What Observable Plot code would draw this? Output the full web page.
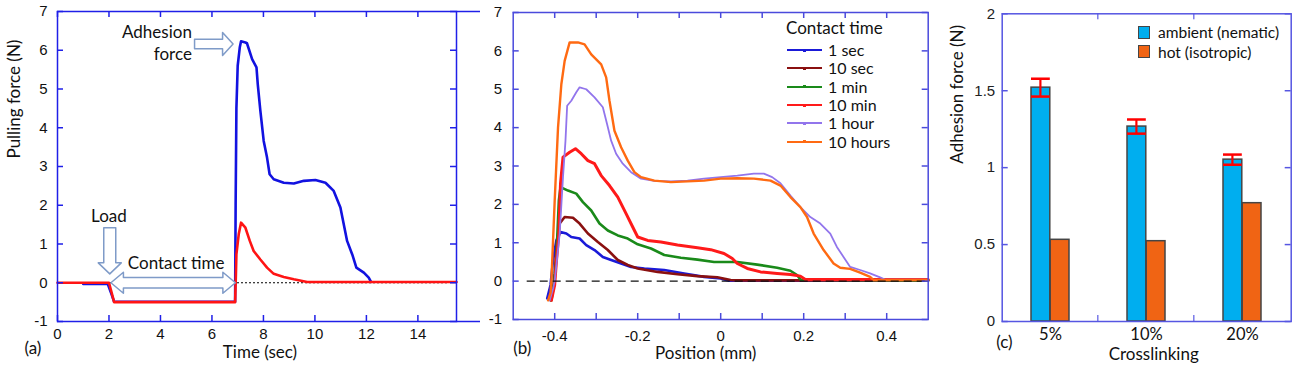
<!DOCTYPE html>
<html><head><meta charset="utf-8">
<script src="https://cdn.jsdelivr.net/npm/d3@7"></script>
<script src="https://cdn.jsdelivr.net/npm/@observablehq/plot@0.6"></script>
<style>
body{margin:0;background:#fff;}
#wrap{position:relative;width:1301px;height:369px;overflow:hidden;background:#fff;font-family:Lato,sans-serif;}
#wrap svg{position:absolute;top:0;overflow:visible;}
.lg{position:absolute;font-family:Lato,sans-serif;color:#111;white-space:nowrap;line-height:16px;}
</style></head><body><div id="wrap"></div>
<script>
// ================= DATA =================
// Panel (a): pulling force vs time
const timeTicks = [0, 2, 4, 6, 8, 10, 12, 14];
const forceTicks = [-1, 0, 1, 2, 3, 4, 5, 6, 7];
const aBlueTime  = [1.0, 1.95, 2.1, 2.2, 6.9, 6.92, 6.95, 7.0, 7.08, 7.13, 7.3, 7.36, 7.56, 7.73, 7.78, 7.88, 8.01, 8.14, 8.24, 8.40, 8.79, 9.18, 9.57, 10.02, 10.41, 10.73, 10.99, 11.25, 11.45, 11.61, 11.90, 12.09, 12.18];
const aBlueForce = [-0.03, -0.03, -0.3, -0.49, -0.49, 2.0, 4.5, 5.6, 6.07, 6.23, 6.2, 6.18, 5.77, 5.56, 5.12, 4.44, 3.66, 3.23, 2.80, 2.67, 2.58, 2.56, 2.63, 2.65, 2.58, 2.37, 1.94, 1.08, 0.73, 0.39, 0.26, 0.13, 0.02];
const aRedTime  = [0, 2.0, 2.1, 2.2, 6.9, 6.93, 6.95, 7.04, 7.13, 7.30, 7.47, 7.62, 7.88, 8.14, 8.40, 8.79, 9.18, 9.70, 15.5];
const aRedForce = [0, 0, -0.25, -0.5, -0.5, 0.2, 0.73, 1.25, 1.55, 1.42, 1.08, 0.82, 0.60, 0.39, 0.23, 0.15, 0.09, 0.02, 0.02];

// Panel (b): pulling force vs position for contact times
const posTicks = [-0.4, -0.3, -0.2, -0.1, 0, 0.1, 0.2, 0.3, 0.4];
const posLabels = [-0.4, -0.2, 0, 0.2, 0.4];
const contactTimes = ["1 sec", "10 sec", "1 min", "10 min", "1 hour", "10 hours"];
const b1secPos = [-0.418,-0.41,-0.404,-0.396,-0.386,-0.372,-0.36,-0.34,-0.324,-0.304,-0.284,-0.264,-0.24,-0.216,-0.184,-0.136,-0.088,-0.04,0,0.02,0.5];
const b1secF   = [-0.45,-0.1,0.55,1.06,1.28,1.24,1.15,1.11,0.94,0.81,0.63,0.55,0.46,0.37,0.33,0.29,0.20,0.11,0.07,0.01,0.01];
const b10secPos = [-0.41,-0.404,-0.4,-0.394,-0.388,-0.376,-0.356,-0.34,-0.32,-0.296,-0.272,-0.248,-0.224,-0.2,-0.152,-0.104,-0.056,-0.008,0.024,0.04,0.5];
const b10secF   = [-0.5,-0.2,0.2,1.06,1.50,1.67,1.65,1.50,1.24,1.02,0.81,0.55,0.42,0.33,0.24,0.18,0.13,0.10,0.03,0.02,0.02];
const b1minPos = [-0.408,-0.402,-0.396,-0.39,-0.386,-0.368,-0.348,-0.332,-0.312,-0.292,-0.272,-0.248,-0.224,-0.2,-0.168,-0.136,-0.096,-0.056,-0.016,0.04,0.088,0.136,0.168,0.184,0.192,0.5];
const b1minF   = [-0.5,-0.1,0.6,2.1,2.45,2.36,2.28,2.06,1.84,1.50,1.32,1.19,1.11,0.96,0.85,0.68,0.61,0.56,0.50,0.50,0.43,0.35,0.27,0.16,0.04,0.02];
const b10minPos = [-0.408,-0.4,-0.396,-0.39,-0.386,-0.38,-0.364,-0.35,-0.336,-0.32,-0.304,-0.288,-0.268,-0.248,-0.228,-0.212,-0.2,-0.176,-0.144,-0.104,-0.056,-0.024,0.008,0.028,0.04,0.064,0.096,0.136,0.168,0.192,0.204,0.5];
const b10minF   = [-0.5,-0.1,0.5,1.24,2.54,3.23,3.36,3.45,3.32,3.14,3.06,2.75,2.49,2.19,1.76,1.41,1.15,1.06,1.02,0.94,0.87,0.82,0.72,0.59,0.46,0.33,0.24,0.20,0.17,0.13,0.04,0.04];
const b1hourPos = [-0.412,-0.404,-0.4,-0.388,-0.38,-0.374,-0.37,-0.36,-0.348,-0.34,-0.324,-0.304,-0.284,-0.274,-0.264,-0.252,-0.236,-0.216,-0.192,-0.16,-0.12,-0.08,-0.04,0,0.04,0.08,0.104,0.124,0.144,0.168,0.192,0.216,0.24,0.264,0.28,0.296,0.312,0.336,0.36,0.384,0.396,0.5];
const b1hourF   = [-0.5,-0.2,0,1.24,2.71,3.66,4.57,4.70,4.92,5.05,5.0,4.79,4.53,4.10,3.66,3.32,3.06,2.84,2.67,2.61,2.60,2.62,2.67,2.71,2.75,2.80,2.80,2.71,2.55,2.23,1.93,1.67,1.50,1.24,0.89,0.63,0.37,0.29,0.20,0.10,0.04,0.04];
const b10hourPos = [-0.416,-0.41,-0.408,-0.4,-0.392,-0.384,-0.376,-0.364,-0.344,-0.328,-0.312,-0.288,-0.276,-0.268,-0.256,-0.24,-0.224,-0.208,-0.192,-0.16,-0.12,-0.08,-0.04,0,0.04,0.08,0.12,0.144,0.168,0.192,0.208,0.224,0.248,0.272,0.288,0.312,0.336,0.36,0.368,0.5];
const b10hourF   = [-0.5,-0.3,0,2.1,4.0,5.13,5.74,6.22,6.22,6.17,5.91,5.65,5.31,4.70,3.92,3.49,3.14,2.84,2.71,2.62,2.58,2.60,2.62,2.67,2.68,2.67,2.62,2.49,2.19,1.93,1.67,1.24,0.81,0.46,0.35,0.32,0.22,0.11,0.03,0.03];

// Panel (c): adhesion force vs crosslinking
const crosslinking = ["5%", "10%", "20%"];
const ambientForce = [1.52, 1.267, 1.052];
const ambientErr   = [0.058, 0.046, 0.033];
const hotForce     = [0.531, 0.522, 0.769];
const adhesionTicks = [0, 0.5, 1, 1.5, 2];
const barSeries = ["ambient (nematic)", "hot (isotropic)"];

// ================= STYLE =================
const numFont = "'Liberation Sans', Arial, sans-serif";
const txtFont = "Lato, sans-serif";
const wrap = document.getElementById("wrap");

function place(svg, left) { svg.style.left = left + "px"; wrap.appendChild(svg); }

// ---------- Panel (a) ----------
{
  const W = 470, H = 369, ml = 57, mr = 14, mt = 11, mb = 48;
  const iw = W - ml - mr, ih = H - mt - mb;
  const xd = [0, 15.5], yd = [-1, 7];
  const kx = iw / (xd[1] - xd[0]), ky = ih / (yd[1] - yd[0]);
  const frameC = "#1f1fe8";
  const blue = aBlueTime.map((t, i) => ({t, f: aBlueForce[i]}));
  const red = aRedTime.map((t, i) => ({t, f: aRedForce[i]}));

  // hollow block arrows (anchors in data units, sizes in px)
  const arrows = [];
  function rightArrow(id, tipX, tipY, len, headLen, sh, hh) {
    const x0 = tipX - len / kx, xb = tipX - headLen / kx, s = sh / ky, h = hh / ky;
    [[x0, tipY + s], [xb, tipY + s], [xb, tipY + h], [tipX, tipY], [xb, tipY - h], [xb, tipY - s], [x0, tipY - s], [x0, tipY + s]]
      .forEach(([x, y]) => arrows.push({id, x, y}));
  }
  function downArrow(id, tipX, tipY, len, headLen, sh, hh) {
    const y0 = tipY + len / ky, yb = tipY + headLen / ky, s = sh / kx, h = hh / kx;
    [[tipX - s, y0], [tipX - s, yb], [tipX - h, yb], [tipX, tipY], [tipX + h, yb], [tipX + s, yb], [tipX + s, y0], [tipX - s, y0]]
      .forEach(([x, y]) => arrows.push({id, x, y}));
  }
  function doubleArrow(id, xl, xr, yc, headLen, sh, hh) {
    const a = xl + headLen / kx, b = xr - headLen / kx, s = sh / ky, h = hh / ky;
    [[xl, yc], [a, yc + h], [a, yc + s], [b, yc + s], [b, yc + h], [xr, yc], [b, yc - h], [b, yc - s], [a, yc - s], [a, yc - h], [xl, yc]]
      .forEach(([x, y]) => arrows.push({id, x, y}));
  }
  rightArrow("adh", 6.82, 6.16, 38.5, 10.5, 4.7, 11.5);
  downArrow("load", 2.03, 0.23, 46, 11, 6, 11.5);
  doubleArrow("contact", 2.075, 6.91, 0, 12.5, 5.3, 10.5);

  const notesEnd = [
    {x: 5.22, y: 6.46, text: "Adhesion"},
    {x: 5.22, y: 5.88, text: "force"}
  ];
  const notesMid = [
    {x: 2.0, y: 1.72, text: "Load"},
    {x: 4.61, y: 0.49, text: "Contact time"}
  ];

  const svg = Plot.plot({
    width: W, height: H, marginLeft: ml, marginRight: mr, marginTop: mt, marginBottom: mb,
    x: {domain: xd}, y: {domain: yd},
    style: {background: "transparent", color: "#111", overflow: "visible"},
    marks: [
      Plot.axisX({ticks: timeTicks, tickSize: 0, tickPadding: 7, label: null, fontSize: 15, fontFamily: numFont, tickFormat: d => String(d)}),
      Plot.axisY({ticks: forceTicks, tickSize: 0, tickPadding: 10, label: null, fontSize: 15, fontFamily: numFont, tickFormat: d => String(d)}),
      Plot.ruleY([0], {stroke: "#000", strokeWidth: 1, strokeDasharray: "2,2", insetRight: 8}),
      Plot.line(blue, {x: "t", y: "f", stroke: "#1212e0", strokeWidth: 2.6}),
      Plot.line(red, {x: "t", y: "f", stroke: "#ff1414", strokeWidth: 2.6}),
      Plot.line(arrows, {x: "x", y: "y", z: "id", fill: "white", stroke: "#7f9bc8", strokeWidth: 1.5}),
      Plot.text(notesEnd, {x: "x", y: "y", text: "text", textAnchor: "end", fontSize: 17, fontFamily: txtFont, fill: "#111"}),
      Plot.text(notesMid, {x: "x", y: "y", text: "text", textAnchor: "middle", fontSize: 17, fontFamily: txtFont, fill: "#111"}),
      Plot.frame({stroke: frameC, strokeWidth: 1.5}),
      Plot.ruleY(yd, {stroke: frameC, strokeWidth: 1.5, insetLeft: iw, insetRight: -24}),
      Plot.tickX(timeTicks, {x: d => d, stroke: frameC, strokeWidth: 1.5, insetTop: ih - 6}),
      Plot.tickX(timeTicks, {x: d => d, stroke: frameC, strokeWidth: 1.5, insetBottom: ih - 6}),
      Plot.tickY(forceTicks, {y: d => d, stroke: frameC, strokeWidth: 1.5, insetRight: iw - 6}),
      Plot.tickY(forceTicks, {y: d => d, stroke: frameC, strokeWidth: 1.5, insetLeft: iw - 6}),
      Plot.text(["Pulling force (N)"], {frameAnchor: "left", rotate: -90, dx: -43, dy: -8, fontSize: 17, fontFamily: txtFont, fill: "#111"}),
      Plot.text(["Time (sec)"], {frameAnchor: "bottom", dx: 3, dy: 36, fontSize: 17, fontFamily: txtFont, fill: "#111"}),
      Plot.text(["(a)"], {frameAnchor: "bottom-left", dx: -33, dy: 32, fontSize: 17, fontFamily: txtFont, fill: "#111"})
    ]
  });
  place(svg, 0);
}

// ---------- Panel (b) ----------
const bColors = ["#1a1ad8", "#8a1010", "#1a8a1a", "#ff1a1a", "#9275ec", "#ff6a12"];
const bWidths = [2.6, 2.6, 2.6, 3, 1.8, 2.4];
{
  const W = 470, H = 369, ml = 42.7, mr = 12.3, mt = 12, mb = 50;
  const iw = W - ml - mr, ih = H - mt - mb;
  const frameC = "#4a4adc";
  const series = [
    [b1secPos, b1secF], [b10secPos, b10secF], [b1minPos, b1minF],
    [b10minPos, b10minF], [b1hourPos, b1hourF], [b10hourPos, b10hourF]
  ];
  const lines = series.map(([p, f], k) => Plot.line(p.map((x, i) => ({x, y: f[i]})), {x: "x", y: "y", stroke: bColors[k], strokeWidth: bWidths[k]}));
  const svg = Plot.plot({
    width: W, height: H, marginLeft: ml, marginRight: mr, marginTop: mt, marginBottom: mb,
    x: {domain: [-0.5, 0.5]}, y: {domain: [-1, 7]},
    style: {background: "transparent", color: "#111", overflow: "visible"},
    marks: [
      Plot.axisX({ticks: posLabels, tickSize: 0, tickPadding: 11, label: null, fontSize: 15, fontFamily: numFont, tickFormat: d => String(d)}),
      Plot.axisY({ticks: forceTicks, tickSize: 0, tickPadding: 11, label: null, fontSize: 15, fontFamily: numFont, tickFormat: d => String(d)}),
      ...lines,
      Plot.ruleY([0], {stroke: "#111", strokeWidth: 1.3, strokeDasharray: "8,5", insetLeft: 14, insetRight: 1}),
      Plot.frame({stroke: frameC, strokeWidth: 1.5}),
      Plot.tickX(posTicks, {x: d => d, stroke: frameC, strokeWidth: 1.5, insetTop: ih - 6}),
      Plot.tickX(posTicks, {x: d => d, stroke: frameC, strokeWidth: 1.5, insetBottom: ih - 6}),
      Plot.tickY(forceTicks, {y: d => d, stroke: frameC, strokeWidth: 1.5, insetRight: iw - 6}),
      Plot.tickY(forceTicks, {y: d => d, stroke: frameC, strokeWidth: 1.5, insetLeft: iw - 6}),
      Plot.text(["Position (mm)"], {frameAnchor: "bottom", dx: -15, dy: 39, fontSize: 17, fontFamily: txtFont, fill: "#111"}),
      Plot.text(["(b)"], {frameAnchor: "bottom-left", dx: 0, dy: 34, fontSize: 17, fontFamily: txtFont, fill: "#111"})
    ]
  });
  place(svg, 470);
}

// legend (b)
{
  const t = document.createElement("div");
  t.className = "lg"; t.style.left = "786px"; t.style.top = (28.3 - 8) + "px"; t.style.fontSize = "17px";
  t.textContent = "Contact time";
  wrap.appendChild(t);
  contactTimes.forEach((name, k) => {
    const cy = 50 + k * 18.35;
    const ln = document.createElement("div");
    ln.style.cssText = `position:absolute;left:787px;top:${cy - 1}px;width:35px;height:2px;background:${bColors[k]};`;
    wrap.appendChild(ln);
    const dot = document.createElement("div");
    dot.style.cssText = `position:absolute;left:803px;top:${cy - 1.5}px;width:3px;height:3px;background:${bColors[k]};`;
    wrap.appendChild(dot);
    const lb = document.createElement("div");
    lb.className = "lg"; lb.style.left = "828px"; lb.style.top = (cy - 8) + "px"; lb.style.fontSize = "16px";
    lb.textContent = name;
    wrap.appendChild(lb);
  });
}

// ---------- Panel (c) ----------
const cColors = ["#00aeef", "#f06414"];
{
  const W = 361, H = 369, ml = 61.7, mr = 10.3, mt = 13.3, mb = 48;
  const iw = W - ml - mr, ih = H - mt - mb;
  const bw = iw / crosslinking.length;
  const ky = ih / 2;
  const frameC = "#5656e2";
  const rows = crosslinking.map((c, i) => ({c, amb: ambientForce[i], hot: hotForce[i], lo: ambientForce[i] - ambientErr[i], hi: ambientForce[i] + ambientErr[i]}));
  const inner = ["10%", "20%"];
  const bl = 29, br = 48.2; // bar insets within band
  const ec = bl + (bw - bl - br) / 2;
  const svg = Plot.plot({
    width: W, height: H, marginLeft: ml, marginRight: mr, marginTop: mt, marginBottom: mb,
    x: {domain: crosslinking, type: "band", padding: 0}, y: {domain: [0, 2]},
    style: {background: "transparent", color: "#111", overflow: "visible"},
    marks: [
      Plot.axisX({tickSize: 0, tickPadding: 7, label: null, fontSize: 16.5, fontFamily: txtFont}),
      Plot.axisY({ticks: adhesionTicks, tickSize: 0, tickPadding: 7, label: null, fontSize: 15, fontFamily: numFont, tickFormat: d => String(d), fill: "#222"}),
      Plot.barY(rows, {x: "c", y: "amb", fill: cColors[0], stroke: "#454545", strokeWidth: 1.5, insetLeft: bl, insetRight: br}),
      Plot.barY(rows, {x: "c", y: "hot", fill: cColors[1], stroke: "#454545", strokeWidth: 1.5, insetLeft: br, insetRight: bl}),
      Plot.barY(rows, {x: "c", y1: "lo", y2: "hi", fill: "#ff0000", insetLeft: ec - 1.25, insetRight: bw - ec - 1.25}),
      Plot.tickY(rows, {x: "c", y: "lo", stroke: "#ff0000", strokeWidth: 2.5, insetLeft: bl, insetRight: br}),
      Plot.tickY(rows, {x: "c", y: "hi", stroke: "#ff0000", strokeWidth: 2.5, insetLeft: bl, insetRight: br}),
      Plot.frame({stroke: frameC, strokeWidth: 1.5}),
      Plot.barY(inner, {x: d => d, y1: 0, y2: 6 / ky, fill: frameC, insetLeft: -0.75, insetRight: bw - 0.75}),
      Plot.barY(inner, {x: d => d, y1: 2 - 6 / ky, y2: 2, fill: frameC, insetLeft: -0.75, insetRight: bw - 0.75}),
      Plot.tickY(adhesionTicks, {y: d => d, stroke: frameC, strokeWidth: 1.5, insetRight: iw - 6}),
      Plot.tickY(adhesionTicks, {y: d => d, stroke: frameC, strokeWidth: 1.5, insetLeft: iw - 6}),
      Plot.text(["Adhesion force (N)"], {frameAnchor: "left", rotate: -90, dx: -45, dy: -4, fontSize: 17, fontFamily: txtFont, fill: "#111"}),
      Plot.text(["Crosslinking"], {frameAnchor: "bottom", dx: 7, dy: 38, fontSize: 17, fontFamily: txtFont, fill: "#111"}),
      Plot.text(["(c)"], {frameAnchor: "bottom-left", dx: -6, dy: 26, fontSize: 17, fontFamily: txtFont, fill: "#111"})
    ]
  });
  place(svg, 940);
}

// legend (c)
barSeries.forEach((name, k) => {
  const cy = 32.3 + k * 19.4;
  const sq = document.createElement("div");
  sq.style.cssText = `position:absolute;left:1138px;top:${cy - 6.5}px;width:10px;height:11px;background:${cColors[k]};border:1.2px solid #454545;`;
  wrap.appendChild(sq);
  const lb = document.createElement("div");
  lb.className = "lg"; lb.style.left = "1158px"; lb.style.top = (cy - 8) + "px"; lb.style.fontSize = "15.5px";
  lb.textContent = name;
  wrap.appendChild(lb);
});
</script></body></html>
